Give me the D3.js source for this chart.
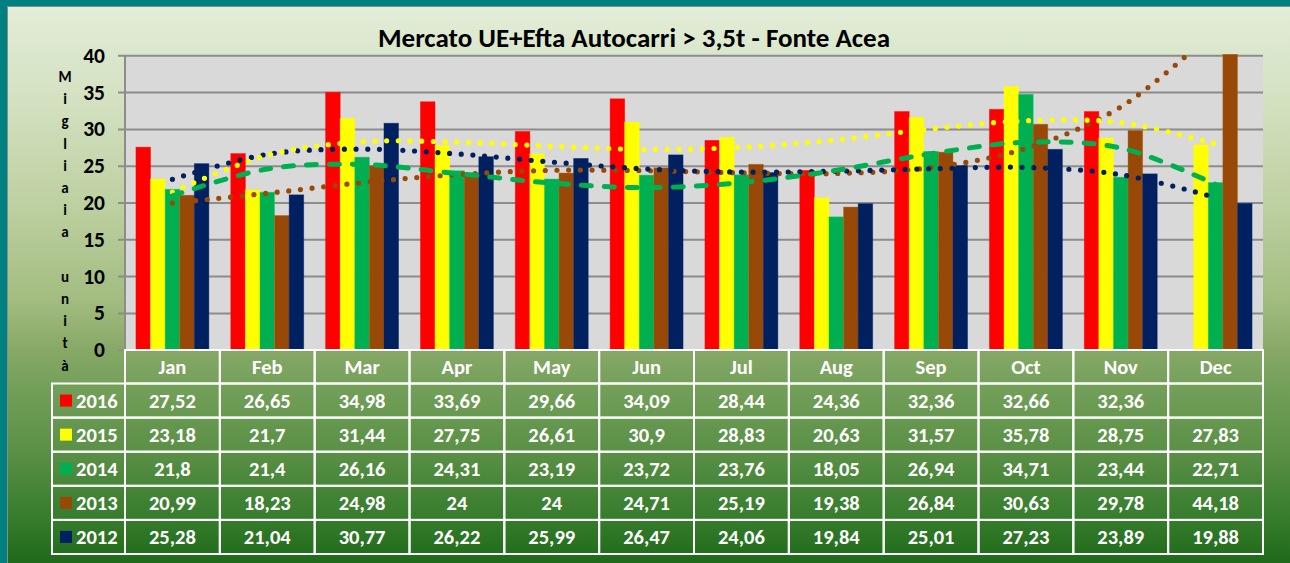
<!DOCTYPE html>
<html>
<head>
<meta charset="utf-8">
<script src="https://cdn.jsdelivr.net/npm/d3@7"></script>
<style>
html,body{margin:0;padding:0;background:#fff;}
svg{display:block;}
</style>
</head>
<body>
<svg id="chart" width="1290" height="563"></svg>
<script>
// ---------- DATA ----------
const months = ["Jan","Feb","Mar","Apr","May","Jun","Jul","Aug","Sep","Oct","Nov","Dec"];
const years = ["2016","2015","2014","2013","2012"];
const v2016 = [27.52, 26.65, 34.98, 33.69, 29.66, 34.09, 28.44, 24.36, 32.36, 32.66, 32.36, null];
const v2015 = [23.18, 21.7, 31.44, 27.75, 26.61, 30.9, 28.83, 20.63, 31.57, 35.78, 28.75, 27.83];
const v2014 = [21.8, 21.4, 26.16, 24.31, 23.19, 23.72, 23.76, 18.05, 26.94, 34.71, 23.44, 22.71];
const v2013 = [20.99, 18.23, 24.98, 24, 24, 24.71, 25.19, 19.38, 26.84, 30.63, 29.78, 44.18];
const v2012 = [25.28, 21.04, 30.77, 26.22, 25.99, 26.47, 24.06, 19.84, 25.01, 27.23, 23.89, 19.88];
// trend lines (value at each month)
const trend2015 = [21.4, 26.4, 28.25, 28.2, 27.65, 27.2, 27.5, 28.5, 30.0, 31.1, 30.85, 27.95];
const trend2014 = [20.9, 24.55, 25.16, 23.94, 22.64, 22.02, 22.7, 24.37, 26.63, 28.18, 27.4, 22.45];
const trend2013 = [19.93, 21.25, 22.7, 23.79, 24.37, 24.32, 24.03, 23.94, 24.75, 27.36, 32.98, 43.5];
const trend2012 = [23.15, 26.55, 27.25, 26.6, 25.5, 24.55, 24.13, 24.25, 24.58, 24.77, 23.78, 20.68];
const yTicks = [0,5,10,15,20,25,30,35,40];
const title = "Mercato UE+Efta Autocarri > 3,5t - Fonte Acea";
const yLabel = "Migliaia unità";

const seriesValues = [v2016, v2015, v2014, v2013, v2012];
const colors = {"2016":"#ff0000","2015":"#ffff00","2014":"#00b050","2013":"#984807","2012":"#002060"};
const fmt = v => v == null ? "" : String(v).replace(".", ",");

// ---------- LAYOUT ----------
const W = 1290, H = 563;
const FONT = "Carlito, Lato, 'Open Sans', sans-serif";
const svg = d3.select("#chart");
const defs = svg.append("defs");

const bg = defs.append("linearGradient").attr("id","bg").attr("x1",0).attr("y1",0).attr("x2",0).attr("y2",1);
[[0,"#e3edd8"],[0.18,"#d2e0bf"],[0.36,"#bdd0a0"],[0.53,"#a2bc80"],[0.62,"#86a866"],[0.68,"#74a05a"],[0.80,"#5a9046"],[0.92,"#367c2c"],[1,"#1d6a1a"]]
  .forEach(([o,c]) => bg.append("stop").attr("offset",o).attr("stop-color",c));

svg.append("rect").attr("width",W).attr("height",H).attr("fill","#008080");
svg.append("rect").attr("x",7).attr("y",6).attr("width",W-7).attr("height",H-6).attr("fill","url(#bg)");
svg.append("path").attr("d",`M7.5,${H} V6.5 H${W}`).attr("fill","none").attr("stroke","#8a8a8a").attr("stroke-width",1);

const plotL = 125, plotR = 1263, plotT = 55.3, plotB = 349.7;
const x = d3.scaleBand().domain(months).range([plotL, plotR]).paddingInner(0).paddingOuter(0);
const x1 = d3.scaleBand().domain(years).range([0, x.bandwidth()]).paddingInner(0).paddingOuter(0.75);
const y = d3.scaleLinear().domain([0,40]).range([plotB, plotT]);

defs.append("clipPath").attr("id","clip").append("rect")
  .attr("x",plotL).attr("y",plotT-1).attr("width",plotR-plotL).attr("height",plotB-plotT+1);

// plot background
svg.append("rect").attr("x",plotL).attr("y",plotT).attr("width",plotR-plotL).attr("height",plotB-plotT).attr("fill","#d9d9d9");

// gridlines with outside ticks
const yAxis = d3.axisLeft(y).tickValues(yTicks).tickSize(-(plotR-plotL)).tickFormat("");
const ga = svg.append("g").attr("transform",`translate(${plotL},0)`).call(yAxis);
ga.select(".domain").remove();
ga.selectAll(".tick line").attr("stroke","#8c8c8c").attr("stroke-width",2).attr("x1",-7);
svg.append("line").attr("x1",plotL).attr("x2",plotL).attr("y1",plotT).attr("y2",plotB).attr("stroke","#8c8c8c").attr("stroke-width",2);

// tick labels
svg.append("g").selectAll("text").data(yTicks).join("text")
  .attr("x",105).attr("y",d => y(d)).attr("dy","0.35em")
  .attr("text-anchor","end").attr("font-family",FONT).attr("font-weight","bold")
  .attr("font-size",21.5).attr("fill","#000").text(d => d);

// y label stacked letters
const letters = Array.from(yLabel);
svg.append("g").selectAll("text").data(letters).join("text")
  .attr("x",65).attr("y",(d,i) => 82 + 22.2*i)
  .attr("text-anchor","middle").attr("font-family",FONT).attr("font-weight","bold")
  .attr("font-size",15).attr("fill","#000").text(d => d === " " ? "" : d);

// bars
const barG = svg.append("g").attr("clip-path","url(#clip)");
years.forEach((yr, si) => {
  const vals = seriesValues[si];
  barG.append("g").selectAll("rect")
    .data(months.map((m,i) => ({m, v: vals[i]})).filter(d => d.v != null))
    .join("rect")
    .attr("x", d => x(d.m) + x1(yr))
    .attr("width", x1.bandwidth())
    .attr("y", d => y(d.v))
    .attr("height", d => plotB - y(d.v))
    .attr("fill", colors[yr])
    .attr("stroke", d3.color(colors[yr]).brighter(0.6).formatHex())
    .attr("stroke-opacity", 0.5)
    .attr("stroke-width", 0.8);
});

// trend lines
const line = d3.line()
  .x((d,i) => x(months[i]) + x.bandwidth()/2)
  .y(d => y(d))
  .curve(d3.curveCatmullRom.alpha(0.5));
const trendG = svg.append("g").attr("clip-path","url(#clip)").attr("fill","none").attr("stroke-linecap","round");
trendG.append("path").attr("d", line(trend2013)).attr("stroke", colors["2013"]).attr("stroke-width",5.2).attr("stroke-dasharray","0 11.7");
trendG.append("path").attr("d", line(trend2012)).attr("stroke", colors["2012"]).attr("stroke-width",5.2).attr("stroke-dasharray","0 11.7");
trendG.append("path").attr("d", line(trend2015)).attr("stroke", colors["2015"]).attr("stroke-width",5.2).attr("stroke-dasharray","0 11.7");
trendG.append("path").attr("d", line(trend2014)).attr("stroke", colors["2014"]).attr("stroke-width",5).attr("stroke-dasharray","10 13");

// title
svg.append("text").attr("x",634).attr("y",46.5).attr("text-anchor","middle")
  .attr("font-family",FONT).attr("font-weight","bold").attr("font-size",27).attr("fill","#000")
  .text(title);

// ---------- TABLE ----------
const headT = 350, headH = 33.5, rowH = 34.1;
const legL = 52;
const tbl = svg.append("g");
const white = "#ffffff";
const TF = 20.5;
// header cells
tbl.append("g").selectAll("rect").data(months).join("rect")
  .attr("x", d => x(d)).attr("y", headT).attr("width", x.bandwidth()).attr("height", headH)
  .attr("fill","none").attr("stroke",white).attr("stroke-width",2);
tbl.append("g").selectAll("text").data(months).join("text")
  .attr("x", d => x(d) + x.bandwidth()/2).attr("y", headT + headH/2).attr("dy","0.36em")
  .attr("text-anchor","middle").attr("font-family",FONT).attr("font-weight","bold")
  .attr("font-size",TF).attr("fill",white).text(d => d);
// data rows
years.forEach((yr, si) => {
  const top = headT + headH + si*rowH;
  const g = tbl.append("g");
  g.append("rect").attr("x",legL).attr("y",top).attr("width",plotL-legL).attr("height",rowH)
    .attr("fill","none").attr("stroke",white).attr("stroke-width",2);
  g.append("rect").attr("x",60).attr("y",top+rowH/2-6).attr("width",12).attr("height",12).attr("fill",colors[yr]);
  g.append("text").attr("x",76).attr("y",top+rowH/2).attr("dy","0.36em")
    .attr("font-family",FONT).attr("font-weight","bold").attr("font-size",TF).attr("fill",white).text(yr);
  g.selectAll("rect.c").data(months).join("rect").attr("class","c")
    .attr("x", d => x(d)).attr("y", top).attr("width", x.bandwidth()).attr("height", rowH)
    .attr("fill","none").attr("stroke",white).attr("stroke-width",2);
  g.selectAll("text.v").data(months.map((m,i)=>({m, v: seriesValues[si][i]}))).join("text").attr("class","v")
    .attr("x", d => x(d.m) + x.bandwidth()/2).attr("y", top + rowH/2).attr("dy","0.36em")
    .attr("text-anchor","middle").attr("font-family",FONT).attr("font-weight","bold")
    .attr("font-size",TF).attr("fill",white).text(d => fmt(d.v));
});
</script>
</body>
</html>
